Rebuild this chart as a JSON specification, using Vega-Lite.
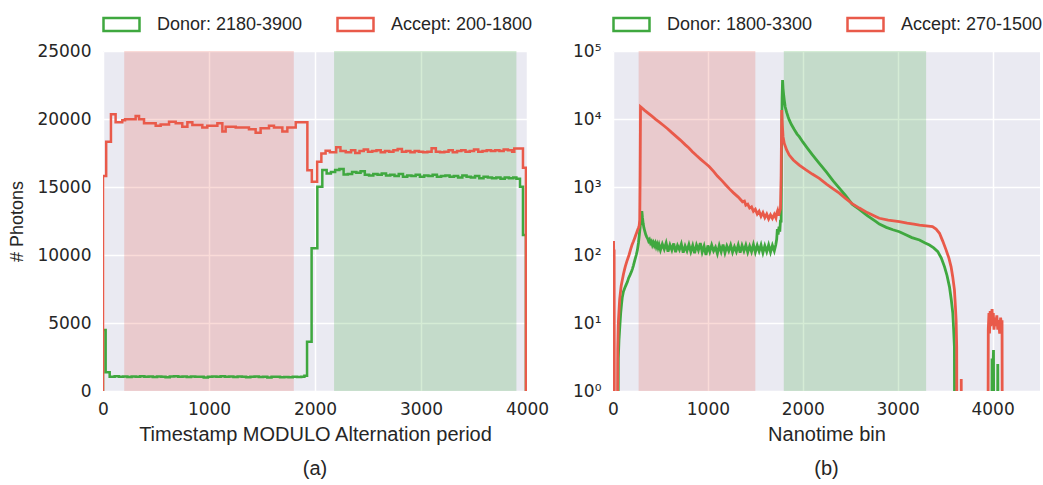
{
  "$schema": "https://vega.github.io/schema/vega-lite/v6.json",
  "background": "white",
  "padding": {"left": 8, "top": 5, "right": 0, "bottom": 0},
  "bounds": "flush",
  "spacing": 86,
  "config": {
    "view": {"fill": "#EAEAF2", "stroke": null},
    "axis": {
      "domain": false, "ticks": false, "gridColor": "#FFFFFF", "gridWidth": 1.5, "labelFlush": false,
      "labelFont": "DejaVu Sans", "labelFontSize": 17, "labelColor": "#262626",
      "titleFont": "Liberation Sans", "titleFontSize": 20, "titleFontWeight": "normal", "titleColor": "#262626"
    },
    "axisX": {"labelPadding": 10, "titlePadding": 7},
    "axisY": {"labelPadding": 12, "titlePadding": 10, "titleFontSize": 18},
    "title": {"font": "Liberation Sans", "fontSize": 20, "fontWeight": "normal", "color": "#262626", "orient": "bottom", "offset": 15}
  },
  "datasets": {
    "spansA": [
      {"kind": "accept", "start": 200, "end": 1800},
      {"kind": "donor", "start": 2180, "end": 3900}
    ],
    "spansB": [
      {"kind": "accept", "start": 270, "end": 1500},
      {"kind": "donor", "start": 1800, "end": 3300}
    ],
    "tsA": [
      {"s": "D", "x": 0, "y": 0}, {"s": "D", "x": 0, "y": 4480}, {"s": "D", "x": 25, "y": 1370}, {"s": "D", "x": 63, "y": 1050},
      {"s": "D", "x": 110, "y": 1080}, {"s": "D", "x": 150, "y": 1040}, {"s": "D", "x": 190, "y": 1060}, {"s": "D", "x": 230, "y": 1030},
      {"s": "D", "x": 270, "y": 1070}, {"s": "D", "x": 310, "y": 1050}, {"s": "D", "x": 350, "y": 1090}, {"s": "D", "x": 390, "y": 1040},
      {"s": "D", "x": 430, "y": 1060}, {"s": "D", "x": 470, "y": 1030}, {"s": "D", "x": 510, "y": 1070}, {"s": "D", "x": 550, "y": 1050},
      {"s": "D", "x": 590, "y": 1020}, {"s": "D", "x": 630, "y": 1060}, {"s": "D", "x": 670, "y": 1080}, {"s": "D", "x": 710, "y": 1040},
      {"s": "D", "x": 750, "y": 1060}, {"s": "D", "x": 790, "y": 1030}, {"s": "D", "x": 830, "y": 1070}, {"s": "D", "x": 870, "y": 1050},
      {"s": "D", "x": 910, "y": 1040}, {"s": "D", "x": 950, "y": 1000}, {"s": "D", "x": 990, "y": 1040}, {"s": "D", "x": 1030, "y": 1060},
      {"s": "D", "x": 1070, "y": 1050}, {"s": "D", "x": 1110, "y": 1080}, {"s": "D", "x": 1150, "y": 1040}, {"s": "D", "x": 1190, "y": 1060},
      {"s": "D", "x": 1230, "y": 1030}, {"s": "D", "x": 1270, "y": 1070}, {"s": "D", "x": 1310, "y": 1050}, {"s": "D", "x": 1350, "y": 1020},
      {"s": "D", "x": 1390, "y": 1040}, {"s": "D", "x": 1430, "y": 1060}, {"s": "D", "x": 1470, "y": 1030}, {"s": "D", "x": 1510, "y": 1050},
      {"s": "D", "x": 1550, "y": 1000}, {"s": "D", "x": 1590, "y": 1040}, {"s": "D", "x": 1630, "y": 1050}, {"s": "D", "x": 1670, "y": 1010},
      {"s": "D", "x": 1710, "y": 1030}, {"s": "D", "x": 1750, "y": 1020}, {"s": "D", "x": 1790, "y": 1040}, {"s": "D", "x": 1830, "y": 1030},
      {"s": "D", "x": 1870, "y": 1050}, {"s": "D", "x": 1900, "y": 1130}, {"s": "D", "x": 1925, "y": 3620}, {"s": "D", "x": 1968, "y": 10490},
      {"s": "D", "x": 2022, "y": 15010}, {"s": "D", "x": 2069, "y": 16250}, {"s": "D", "x": 2110, "y": 15990}, {"s": "D", "x": 2150, "y": 16100},
      {"s": "D", "x": 2190, "y": 16250}, {"s": "D", "x": 2230, "y": 16330}, {"s": "D", "x": 2270, "y": 15920}, {"s": "D", "x": 2310, "y": 15950},
      {"s": "D", "x": 2350, "y": 16100}, {"s": "D", "x": 2390, "y": 16050}, {"s": "D", "x": 2430, "y": 16150}, {"s": "D", "x": 2470, "y": 15900},
      {"s": "D", "x": 2510, "y": 15850}, {"s": "D", "x": 2550, "y": 15950}, {"s": "D", "x": 2590, "y": 15900}, {"s": "D", "x": 2630, "y": 16000},
      {"s": "D", "x": 2670, "y": 15850}, {"s": "D", "x": 2710, "y": 15900}, {"s": "D", "x": 2750, "y": 15800}, {"s": "D", "x": 2790, "y": 15950},
      {"s": "D", "x": 2830, "y": 15750}, {"s": "D", "x": 2870, "y": 15850}, {"s": "D", "x": 2910, "y": 15800}, {"s": "D", "x": 2950, "y": 15900},
      {"s": "D", "x": 2990, "y": 15750}, {"s": "D", "x": 3030, "y": 15850}, {"s": "D", "x": 3070, "y": 15800}, {"s": "D", "x": 3110, "y": 15900},
      {"s": "D", "x": 3150, "y": 15750}, {"s": "D", "x": 3190, "y": 15800}, {"s": "D", "x": 3230, "y": 15850}, {"s": "D", "x": 3270, "y": 15750},
      {"s": "D", "x": 3310, "y": 15800}, {"s": "D", "x": 3350, "y": 15700}, {"s": "D", "x": 3390, "y": 15850}, {"s": "D", "x": 3430, "y": 15750},
      {"s": "D", "x": 3470, "y": 15700}, {"s": "D", "x": 3510, "y": 15800}, {"s": "D", "x": 3550, "y": 15650}, {"s": "D", "x": 3590, "y": 15750},
      {"s": "D", "x": 3630, "y": 15700}, {"s": "D", "x": 3670, "y": 15650}, {"s": "D", "x": 3710, "y": 15700}, {"s": "D", "x": 3750, "y": 15600},
      {"s": "D", "x": 3790, "y": 15700}, {"s": "D", "x": 3830, "y": 15650}, {"s": "D", "x": 3870, "y": 15700}, {"s": "D", "x": 3900, "y": 15600},
      {"s": "D", "x": 3934, "y": 15010}, {"s": "D", "x": 3962, "y": 11470}, {"s": "D", "x": 3990, "y": 0}, {"s": "D", "x": 4000, "y": 0},
      {"s": "A", "x": 0, "y": 0}, {"s": "A", "x": 0, "y": 15800}, {"s": "A", "x": 30, "y": 18330}, {"s": "A", "x": 75, "y": 20350},
      {"s": "A", "x": 119, "y": 19760}, {"s": "A", "x": 182, "y": 19910}, {"s": "A", "x": 208, "y": 19980}, {"s": "A", "x": 308, "y": 20220},
      {"s": "A", "x": 340, "y": 19980}, {"s": "A", "x": 387, "y": 19680}, {"s": "A", "x": 497, "y": 19500}, {"s": "A", "x": 544, "y": 19600},
      {"s": "A", "x": 623, "y": 19800}, {"s": "A", "x": 686, "y": 19680}, {"s": "A", "x": 748, "y": 19430}, {"s": "A", "x": 796, "y": 19760},
      {"s": "A", "x": 843, "y": 19560}, {"s": "A", "x": 937, "y": 19380}, {"s": "A", "x": 984, "y": 19500}, {"s": "A", "x": 1079, "y": 19680},
      {"s": "A", "x": 1126, "y": 19080}, {"s": "A", "x": 1157, "y": 19430}, {"s": "A", "x": 1252, "y": 19380}, {"s": "A", "x": 1377, "y": 19250},
      {"s": "A", "x": 1440, "y": 18990}, {"s": "A", "x": 1487, "y": 19320}, {"s": "A", "x": 1566, "y": 19500}, {"s": "A", "x": 1613, "y": 19380},
      {"s": "A", "x": 1692, "y": 19080}, {"s": "A", "x": 1739, "y": 19380}, {"s": "A", "x": 1818, "y": 19760}, {"s": "A", "x": 1928, "y": 16240},
      {"s": "A", "x": 1970, "y": 15380}, {"s": "A", "x": 2020, "y": 16850}, {"s": "A", "x": 2060, "y": 17470}, {"s": "A", "x": 2100, "y": 17670},
      {"s": "A", "x": 2140, "y": 17550}, {"s": "A", "x": 2200, "y": 17920}, {"s": "A", "x": 2240, "y": 17650}, {"s": "A", "x": 2290, "y": 17550},
      {"s": "A", "x": 2340, "y": 17700}, {"s": "A", "x": 2380, "y": 17500}, {"s": "A", "x": 2420, "y": 17650}, {"s": "A", "x": 2460, "y": 17750},
      {"s": "A", "x": 2500, "y": 17600}, {"s": "A", "x": 2540, "y": 17650}, {"s": "A", "x": 2580, "y": 17700}, {"s": "A", "x": 2620, "y": 17550},
      {"s": "A", "x": 2660, "y": 17650}, {"s": "A", "x": 2700, "y": 17600}, {"s": "A", "x": 2740, "y": 17700}, {"s": "A", "x": 2780, "y": 17800},
      {"s": "A", "x": 2820, "y": 17600}, {"s": "A", "x": 2860, "y": 17650}, {"s": "A", "x": 2900, "y": 17550}, {"s": "A", "x": 2940, "y": 17650},
      {"s": "A", "x": 2980, "y": 17600}, {"s": "A", "x": 3020, "y": 17550}, {"s": "A", "x": 3060, "y": 17600}, {"s": "A", "x": 3100, "y": 17850},
      {"s": "A", "x": 3140, "y": 17600}, {"s": "A", "x": 3180, "y": 17550}, {"s": "A", "x": 3220, "y": 17600}, {"s": "A", "x": 3260, "y": 17700},
      {"s": "A", "x": 3300, "y": 17550}, {"s": "A", "x": 3340, "y": 17650}, {"s": "A", "x": 3380, "y": 17700}, {"s": "A", "x": 3420, "y": 17600},
      {"s": "A", "x": 3460, "y": 17650}, {"s": "A", "x": 3500, "y": 17750}, {"s": "A", "x": 3540, "y": 17600}, {"s": "A", "x": 3580, "y": 17650},
      {"s": "A", "x": 3620, "y": 17700}, {"s": "A", "x": 3660, "y": 17650}, {"s": "A", "x": 3700, "y": 17700}, {"s": "A", "x": 3740, "y": 17650},
      {"s": "A", "x": 3780, "y": 17750}, {"s": "A", "x": 3820, "y": 17700}, {"s": "A", "x": 3860, "y": 17600}, {"s": "A", "x": 3880, "y": 17840},
      {"s": "A", "x": 3962, "y": 16410}, {"s": "A", "x": 3990, "y": 0}, {"s": "A", "x": 4000, "y": 0}
    ],
    "nanoB": [
      {"s": "D", "x": 0, "y": 0.01}, {"s": "D", "x": 50, "y": 0.01}, {"s": "D", "x": 56, "y": 3}, {"s": "D", "x": 63, "y": 5.6},
      {"s": "D", "x": 72, "y": 9}, {"s": "D", "x": 81, "y": 14}, {"s": "D", "x": 90, "y": 19}, {"s": "D", "x": 98, "y": 24},
      {"s": "D", "x": 110, "y": 29}, {"s": "D", "x": 125, "y": 33}, {"s": "D", "x": 140, "y": 37}, {"s": "D", "x": 151, "y": 40},
      {"s": "D", "x": 165, "y": 46}, {"s": "D", "x": 180, "y": 51}, {"s": "D", "x": 195, "y": 57}, {"s": "D", "x": 204, "y": 62},
      {"s": "D", "x": 215, "y": 70}, {"s": "D", "x": 230, "y": 84}, {"s": "D", "x": 245, "y": 100}, {"s": "D", "x": 257, "y": 118},
      {"s": "D", "x": 268, "y": 150}, {"s": "D", "x": 278, "y": 200}, {"s": "D", "x": 286, "y": 260}, {"s": "D", "x": 294, "y": 330},
      {"s": "D", "x": 300, "y": 400}, {"s": "D", "x": 304, "y": 440}, {"s": "D", "x": 310, "y": 360}, {"s": "D", "x": 318, "y": 290},
      {"s": "D", "x": 326, "y": 250}, {"s": "D", "x": 335, "y": 225}, {"s": "D", "x": 345, "y": 200}, {"s": "D", "x": 355, "y": 185},
      {"s": "D", "x": 365, "y": 175}, {"s": "D", "x": 375, "y": 160}, {"s": "D", "x": 385, "y": 168}, {"s": "D", "x": 395, "y": 150},
      {"s": "D", "x": 405, "y": 158}, {"s": "D", "x": 415, "y": 140}, {"s": "D", "x": 425, "y": 152}, {"s": "D", "x": 435, "y": 138},
      {"s": "D", "x": 445, "y": 150}, {"s": "D", "x": 455, "y": 132}, {"s": "D", "x": 465, "y": 145}, {"s": "D", "x": 475, "y": 128},
      {"s": "D", "x": 485, "y": 142}, {"s": "D", "x": 495, "y": 125}, {"s": "D", "x": 500, "y": 118}, {"s": "D", "x": 520, "y": 145},
      {"s": "D", "x": 540, "y": 122}, {"s": "D", "x": 560, "y": 150}, {"s": "D", "x": 580, "y": 112}, {"s": "D", "x": 600, "y": 140},
      {"s": "D", "x": 620, "y": 118}, {"s": "D", "x": 640, "y": 148}, {"s": "D", "x": 660, "y": 110}, {"s": "D", "x": 680, "y": 138},
      {"s": "D", "x": 700, "y": 120}, {"s": "D", "x": 720, "y": 145}, {"s": "D", "x": 740, "y": 108}, {"s": "D", "x": 760, "y": 135},
      {"s": "D", "x": 780, "y": 115}, {"s": "D", "x": 800, "y": 142}, {"s": "D", "x": 820, "y": 112}, {"s": "D", "x": 840, "y": 138},
      {"s": "D", "x": 860, "y": 106}, {"s": "D", "x": 880, "y": 140}, {"s": "D", "x": 900, "y": 118}, {"s": "D", "x": 920, "y": 150},
      {"s": "D", "x": 940, "y": 110}, {"s": "D", "x": 960, "y": 135}, {"s": "D", "x": 980, "y": 100}, {"s": "D", "x": 1000, "y": 138},
      {"s": "D", "x": 1020, "y": 112}, {"s": "D", "x": 1040, "y": 140}, {"s": "D", "x": 1060, "y": 115}, {"s": "D", "x": 1080, "y": 130},
      {"s": "D", "x": 1100, "y": 105}, {"s": "D", "x": 1120, "y": 138}, {"s": "D", "x": 1140, "y": 112}, {"s": "D", "x": 1160, "y": 142},
      {"s": "D", "x": 1180, "y": 108}, {"s": "D", "x": 1200, "y": 135}, {"s": "D", "x": 1220, "y": 115}, {"s": "D", "x": 1240, "y": 140},
      {"s": "D", "x": 1260, "y": 110}, {"s": "D", "x": 1280, "y": 132}, {"s": "D", "x": 1300, "y": 112}, {"s": "D", "x": 1320, "y": 140},
      {"s": "D", "x": 1340, "y": 108}, {"s": "D", "x": 1360, "y": 138}, {"s": "D", "x": 1380, "y": 115}, {"s": "D", "x": 1400, "y": 140},
      {"s": "D", "x": 1420, "y": 110}, {"s": "D", "x": 1440, "y": 135}, {"s": "D", "x": 1460, "y": 112}, {"s": "D", "x": 1480, "y": 142},
      {"s": "D", "x": 1500, "y": 110}, {"s": "D", "x": 1520, "y": 138}, {"s": "D", "x": 1540, "y": 114}, {"s": "D", "x": 1560, "y": 140},
      {"s": "D", "x": 1580, "y": 108}, {"s": "D", "x": 1600, "y": 136}, {"s": "D", "x": 1620, "y": 112}, {"s": "D", "x": 1640, "y": 140},
      {"s": "D", "x": 1660, "y": 110}, {"s": "D", "x": 1680, "y": 138}, {"s": "D", "x": 1700, "y": 115}, {"s": "D", "x": 1715, "y": 140},
      {"s": "D", "x": 1725, "y": 170}, {"s": "D", "x": 1732, "y": 240}, {"s": "D", "x": 1740, "y": 200}, {"s": "D", "x": 1750, "y": 260},
      {"s": "D", "x": 1758, "y": 220}, {"s": "D", "x": 1765, "y": 330}, {"s": "D", "x": 1772, "y": 300}, {"s": "D", "x": 1777, "y": 3000},
      {"s": "D", "x": 1782, "y": 20000}, {"s": "D", "x": 1787, "y": 37500}, {"s": "D", "x": 1792, "y": 28000}, {"s": "D", "x": 1798, "y": 23000},
      {"s": "D", "x": 1805, "y": 19000}, {"s": "D", "x": 1815, "y": 15000}, {"s": "D", "x": 1830, "y": 12500}, {"s": "D", "x": 1845, "y": 10800},
      {"s": "D", "x": 1857, "y": 9700}, {"s": "D", "x": 1880, "y": 8300}, {"s": "D", "x": 1910, "y": 7000}, {"s": "D", "x": 1940, "y": 6000},
      {"s": "D", "x": 1963, "y": 5500}, {"s": "D", "x": 2000, "y": 4600}, {"s": "D", "x": 2050, "y": 3700}, {"s": "D", "x": 2100, "y": 3000},
      {"s": "D", "x": 2174, "y": 2230}, {"s": "D", "x": 2250, "y": 1650}, {"s": "D", "x": 2320, "y": 1230}, {"s": "D", "x": 2385, "y": 960},
      {"s": "D", "x": 2450, "y": 750}, {"s": "D", "x": 2520, "y": 560}, {"s": "D", "x": 2596, "y": 470}, {"s": "D", "x": 2680, "y": 380},
      {"s": "D", "x": 2772, "y": 310}, {"s": "D", "x": 2807, "y": 285}, {"s": "D", "x": 2880, "y": 255}, {"s": "D", "x": 2950, "y": 235},
      {"s": "D", "x": 3018, "y": 220}, {"s": "D", "x": 3080, "y": 200}, {"s": "D", "x": 3150, "y": 180}, {"s": "D", "x": 3230, "y": 166},
      {"s": "D", "x": 3290, "y": 150}, {"s": "D", "x": 3335, "y": 140}, {"s": "D", "x": 3380, "y": 127}, {"s": "D", "x": 3423, "y": 112},
      {"s": "D", "x": 3460, "y": 90}, {"s": "D", "x": 3494, "y": 67}, {"s": "D", "x": 3520, "y": 50}, {"s": "D", "x": 3546, "y": 34},
      {"s": "D", "x": 3565, "y": 22}, {"s": "D", "x": 3581, "y": 14}, {"s": "D", "x": 3590, "y": 8}, {"s": "D", "x": 3598, "y": 4.5},
      {"s": "D", "x": 3602, "y": 0.01}, {"s": "D", "x": 3990, "y": 0.01}, {"s": "D", "x": 3995, "y": 3}, {"s": "D", "x": 4002, "y": 1.5},
      {"s": "D", "x": 4010, "y": 4}, {"s": "D", "x": 4016, "y": 0.01}, {"s": "D", "x": 4050, "y": 0.01}, {"s": "D", "x": 4055, "y": 2.5},
      {"s": "D", "x": 4062, "y": 0.01}, {"s": "D", "x": 4500, "y": 0.01},
      {"s": "A", "x": 0, "y": 0.01}, {"s": "A", "x": 3, "y": 8}, {"s": "A", "x": 6, "y": 160}, {"s": "A", "x": 9, "y": 60},
      {"s": "A", "x": 12, "y": 120}, {"s": "A", "x": 15, "y": 0.01}, {"s": "A", "x": 45, "y": 0.01}, {"s": "A", "x": 50, "y": 4},
      {"s": "A", "x": 56, "y": 10}, {"s": "A", "x": 63, "y": 15}, {"s": "A", "x": 70, "y": 22}, {"s": "A", "x": 78, "y": 28},
      {"s": "A", "x": 86, "y": 35}, {"s": "A", "x": 98, "y": 43}, {"s": "A", "x": 110, "y": 52}, {"s": "A", "x": 120, "y": 60},
      {"s": "A", "x": 130, "y": 68}, {"s": "A", "x": 145, "y": 80}, {"s": "A", "x": 160, "y": 92}, {"s": "A", "x": 169, "y": 100},
      {"s": "A", "x": 185, "y": 120}, {"s": "A", "x": 200, "y": 140}, {"s": "A", "x": 215, "y": 158}, {"s": "A", "x": 230, "y": 180},
      {"s": "A", "x": 240, "y": 197}, {"s": "A", "x": 250, "y": 215}, {"s": "A", "x": 260, "y": 235}, {"s": "A", "x": 268, "y": 250},
      {"s": "A", "x": 276, "y": 270}, {"s": "A", "x": 282, "y": 330}, {"s": "A", "x": 286, "y": 1500}, {"s": "A", "x": 290, "y": 15200},
      {"s": "A", "x": 300, "y": 14800}, {"s": "A", "x": 330, "y": 13500}, {"s": "A", "x": 370, "y": 12200}, {"s": "A", "x": 410, "y": 11000},
      {"s": "A", "x": 450, "y": 9900}, {"s": "A", "x": 485, "y": 9100}, {"s": "A", "x": 530, "y": 8100}, {"s": "A", "x": 575, "y": 7200},
      {"s": "A", "x": 620, "y": 6300}, {"s": "A", "x": 662, "y": 5600}, {"s": "A", "x": 710, "y": 4900}, {"s": "A", "x": 760, "y": 4200},
      {"s": "A", "x": 800, "y": 3750}, {"s": "A", "x": 837, "y": 3300}, {"s": "A", "x": 880, "y": 2900}, {"s": "A", "x": 925, "y": 2550},
      {"s": "A", "x": 970, "y": 2250}, {"s": "A", "x": 1013, "y": 2000}, {"s": "A", "x": 1060, "y": 1700}, {"s": "A", "x": 1100, "y": 1450},
      {"s": "A", "x": 1150, "y": 1230}, {"s": "A", "x": 1189, "y": 1070}, {"s": "A", "x": 1230, "y": 930}, {"s": "A", "x": 1270, "y": 820},
      {"s": "A", "x": 1320, "y": 710}, {"s": "A", "x": 1365, "y": 606}, {"s": "A", "x": 1385, "y": 620}, {"s": "A", "x": 1400, "y": 540},
      {"s": "A", "x": 1420, "y": 560}, {"s": "A", "x": 1440, "y": 490}, {"s": "A", "x": 1460, "y": 510}, {"s": "A", "x": 1480, "y": 440},
      {"s": "A", "x": 1500, "y": 470}, {"s": "A", "x": 1520, "y": 400}, {"s": "A", "x": 1540, "y": 440}, {"s": "A", "x": 1560, "y": 370},
      {"s": "A", "x": 1580, "y": 420}, {"s": "A", "x": 1600, "y": 355}, {"s": "A", "x": 1620, "y": 400}, {"s": "A", "x": 1640, "y": 340},
      {"s": "A", "x": 1660, "y": 390}, {"s": "A", "x": 1680, "y": 345}, {"s": "A", "x": 1700, "y": 395}, {"s": "A", "x": 1717, "y": 350},
      {"s": "A", "x": 1725, "y": 410}, {"s": "A", "x": 1735, "y": 450}, {"s": "A", "x": 1745, "y": 380}, {"s": "A", "x": 1755, "y": 430},
      {"s": "A", "x": 1765, "y": 480}, {"s": "A", "x": 1772, "y": 1500}, {"s": "A", "x": 1778, "y": 13500}, {"s": "A", "x": 1785, "y": 8000},
      {"s": "A", "x": 1792, "y": 5500}, {"s": "A", "x": 1805, "y": 4380}, {"s": "A", "x": 1830, "y": 3500}, {"s": "A", "x": 1857, "y": 2950},
      {"s": "A", "x": 1900, "y": 2500}, {"s": "A", "x": 1963, "y": 2100}, {"s": "A", "x": 2030, "y": 1800}, {"s": "A", "x": 2100, "y": 1550},
      {"s": "A", "x": 2174, "y": 1340}, {"s": "A", "x": 2250, "y": 1100}, {"s": "A", "x": 2320, "y": 940}, {"s": "A", "x": 2385, "y": 810},
      {"s": "A", "x": 2450, "y": 680}, {"s": "A", "x": 2520, "y": 570}, {"s": "A", "x": 2596, "y": 490}, {"s": "A", "x": 2680, "y": 420},
      {"s": "A", "x": 2772, "y": 365}, {"s": "A", "x": 2807, "y": 347}, {"s": "A", "x": 2900, "y": 325}, {"s": "A", "x": 3018, "y": 310},
      {"s": "A", "x": 3100, "y": 295}, {"s": "A", "x": 3170, "y": 285}, {"s": "A", "x": 3230, "y": 276}, {"s": "A", "x": 3300, "y": 268},
      {"s": "A", "x": 3367, "y": 261}, {"s": "A", "x": 3405, "y": 240}, {"s": "A", "x": 3441, "y": 209}, {"s": "A", "x": 3475, "y": 160},
      {"s": "A", "x": 3511, "y": 118}, {"s": "A", "x": 3540, "y": 90}, {"s": "A", "x": 3563, "y": 67}, {"s": "A", "x": 3580, "y": 48},
      {"s": "A", "x": 3598, "y": 31}, {"s": "A", "x": 3608, "y": 18}, {"s": "A", "x": 3616, "y": 11}, {"s": "A", "x": 3622, "y": 4.5},
      {"s": "A", "x": 3626, "y": 0.01}, {"s": "A", "x": 3668, "y": 0.01}, {"s": "A", "x": 3670, "y": 1.5}, {"s": "A", "x": 3672, "y": 0.01},
      {"s": "A", "x": 3950, "y": 0.01}, {"s": "A", "x": 3955, "y": 8}, {"s": "A", "x": 3962, "y": 14}, {"s": "A", "x": 3968, "y": 7},
      {"s": "A", "x": 3975, "y": 15}, {"s": "A", "x": 3982, "y": 9}, {"s": "A", "x": 3988, "y": 13}, {"s": "A", "x": 3995, "y": 16},
      {"s": "A", "x": 4000, "y": 10}, {"s": "A", "x": 4008, "y": 14}, {"s": "A", "x": 4015, "y": 8}, {"s": "A", "x": 4025, "y": 12},
      {"s": "A", "x": 4035, "y": 9}, {"s": "A", "x": 4045, "y": 13}, {"s": "A", "x": 4055, "y": 8}, {"s": "A", "x": 4065, "y": 11},
      {"s": "A", "x": 4075, "y": 7}, {"s": "A", "x": 4085, "y": 12}, {"s": "A", "x": 4095, "y": 9}, {"s": "A", "x": 4100, "y": 11},
      {"s": "A", "x": 4104, "y": 0.01}, {"s": "A", "x": 4500, "y": 0.01}
    ]
  },
  "hconcat": [
    {
      "width": 424,
      "height": 340,
      "title": {"text": "(a)"},
      "layer": [
        {
          "data": {"name": "spansA"},
          "mark": {"type": "rect", "opacity": 0.2},
          "encoding": {
            "x": {"field": "start", "type": "quantitative", "scale": {"domain": [0, 4000], "nice": false, "zero": false},
                  "axis": {"title": "Timestamp MODULO Alternation period", "values": [0, 1000, 2000, 3000, 4000], "format": "d"}},
            "x2": {"field": "end"},
            "fill": {"field": "kind", "type": "nominal", "scale": {"domain": ["accept", "donor"], "range": ["#e74c3c", "#2ca02c"]}, "legend": null}
          }
        },
        {
          "data": {"name": "tsA"},
          "mark": {"type": "line", "interpolate": "step-after", "strokeWidth": 2.5, "clip": true},
          "encoding": {
            "x": {"field": "x", "type": "quantitative", "scale": {"domain": [0, 4000], "nice": false, "zero": false}},
            "y": {"field": "y", "type": "quantitative", "scale": {"domain": [0, 25000], "nice": false},
                  "axis": {"title": "# Photons", "values": [0, 5000, 10000, 15000, 20000, 25000], "format": "d"}},
            "stroke": {"field": "s", "type": "nominal",
              "scale": {"domain": ["D", "A"], "range": ["#3fa83f", "#e95a4a"]},
              "legend": {"orient": "none", "legendX": -1, "legendY": -46, "direction": "horizontal", "title": null, "padding": 0,
                "symbolType": "M-1,-0.36H1V0.36H-1Z", "symbolSize": 1296, "symbolStrokeWidth": 2.5, "symbolFillColor": "white", "symbolOpacity": 1,
                "labelFont": "Liberation Sans", "labelFontSize": 18, "labelColor": "#262626", "labelOffset": 16, "columnPadding": 29,
                "labelExpr": "datum.label == 'D' ? 'Donor: 2180-3900' : 'Accept: 200-1800'"}
            }
          }
        }
      ]
    },
    {
      "width": 427,
      "height": 340,
      "title": {"text": "(b)"},
      "layer": [
        {
          "data": {"name": "spansB"},
          "mark": {"type": "rect", "opacity": 0.2},
          "encoding": {
            "x": {"field": "start", "type": "quantitative", "scale": {"domain": [0, 4500], "nice": false, "zero": false},
                  "axis": {"title": "Nanotime bin", "values": [0, 1000, 2000, 3000, 4000], "format": "d"}},
            "x2": {"field": "end"},
            "fill": {"field": "kind", "type": "nominal", "scale": {"domain": ["accept", "donor"], "range": ["#e74c3c", "#2ca02c"]}, "legend": null}
          }
        },
        {
          "data": {"name": "nanoB"},
          "mark": {"type": "line", "strokeWidth": 2.8, "clip": true},
          "encoding": {
            "x": {"field": "x", "type": "quantitative", "scale": {"domain": [0, 4500], "nice": false, "zero": false}},
            "y": {"field": "y", "type": "quantitative", "scale": {"type": "log", "domain": [1, 100000], "nice": false},
                  "axis": {"title": null, "values": [1, 10, 100, 1000, 10000, 100000],
                           "labelExpr": "'10' + ['⁰','¹','²','³','⁴','⁵'][round(log(datum.value) / LN10)]"}},
            "stroke": {"field": "s", "type": "nominal",
              "scale": {"domain": ["D", "A"], "range": ["#3fa83f", "#e95a4a"]},
              "legend": {"orient": "none", "legendX": -1, "legendY": -46, "direction": "horizontal", "title": null, "padding": 0,
                "symbolType": "M-1,-0.36H1V0.36H-1Z", "symbolSize": 1296, "symbolStrokeWidth": 2.5, "symbolFillColor": "white", "symbolOpacity": 1,
                "labelFont": "Liberation Sans", "labelFontSize": 18, "labelColor": "#262626", "labelOffset": 16, "columnPadding": 29,
                "labelExpr": "datum.label == 'D' ? 'Donor: 1800-3300' : 'Accept: 270-1500'"}
            }
          }
        }
      ]
    }
  ],
  "resolve": {"scale": {"stroke": "independent", "fill": "independent"}, "legend": {"stroke": "independent"}}
}
